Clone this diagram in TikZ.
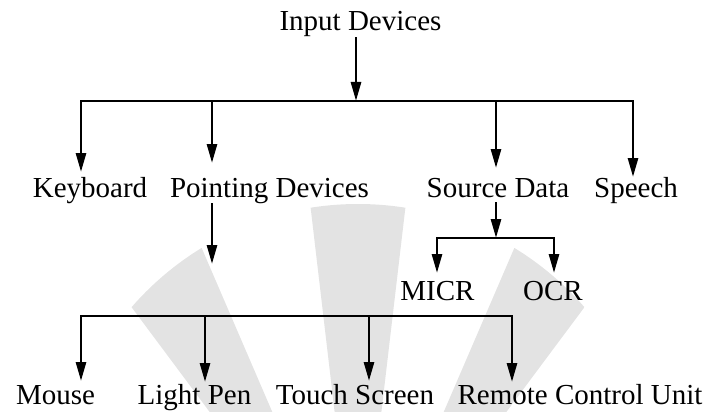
\documentclass[tikz,border=0pt]{standalone}
\usepackage{fontspec}
\setmainfont{Liberation Serif}
\usetikzlibrary{arrows.meta}

\begin{document}
\begin{tikzpicture}[x=1pt,y=-1pt,every node/.style={font=\fontsize{29}{30}\selectfont,inner sep=0pt,anchor=base},
  link/.style={line width=2.7pt},
  arr/.style={link,-{Triangle[length=19pt,width=10pt]}},
  wmark/.style={fill=black!11}]
\useasboundingbox (0,0) rectangle (707,412);
% watermark fan
\begin{scope}
\clip (0,0) rectangle (707,412);
\clip (358,504) circle[radius=300pt];
\foreach \a in {-120,-90,-60}
  \fill[wmark] (358,611) -- +(\a-6.7:420) -- +(\a+6.7:420) -- cycle;
\end{scope}
\node (in) at (360.5,31) {Input Devices};
\node (kb) at (90,197) {Keyboard};
\node (pd) at (269.5,197) {Pointing Devices};
\node (sd) at (498,197) {Source Data};
\node (sp) at (636,197) {Speech};
\node (micr) at (437.5,300) {MICR};
\node (ocr) at (553,300) {OCR};
\node (ms) at (55.5,404) {Mouse};
\node (lp) at (194.5,404) {Light Pen};
\node (ts) at (355,404) {Touch Screen};
\node (rc) at (580,404) {Remote Control Unit};
\coordinate (r0) at (356,101);
\coordinate (k0) at (81,172);
\coordinate (p0) at (212,163);
\coordinate (s0) at (496,168);
\coordinate (h0) at (633,177);
\coordinate (p1) at (212,264);
\coordinate (s1) at (496,202);
\coordinate (s2) at (496,238);
\coordinate (m0) at (437,273);
\coordinate (o0) at (554,273);
\coordinate (b0) at (205,316);
\coordinate (u0) at (81,381);
\coordinate (u1) at (205,382);
\coordinate (u2) at (369,381);
\coordinate (u3) at (512,382);
\draw[arr] (r0 |- in.south) -- (r0);
\draw[arr] (r0) -| (k0);
\draw[arr] (r0) -| (h0);
\draw[arr] (p0 |- r0) -- (p0);
\draw[arr] (s0 |- r0) -- (s0);
\draw[arr] (p1 |- pd.south) -- (p1);
\draw[arr] (s1) -- (s2);
\draw[arr] (s2) -| (m0);
\draw[arr] (s2) -| (o0);
\draw[arr] (b0) -| (u0);
\draw[arr] (b0) -| (u3);
\draw[arr] (b0) -- (u1);
\draw[arr] (u2 |- b0) -- (u2);
\end{tikzpicture}
\end{document}
